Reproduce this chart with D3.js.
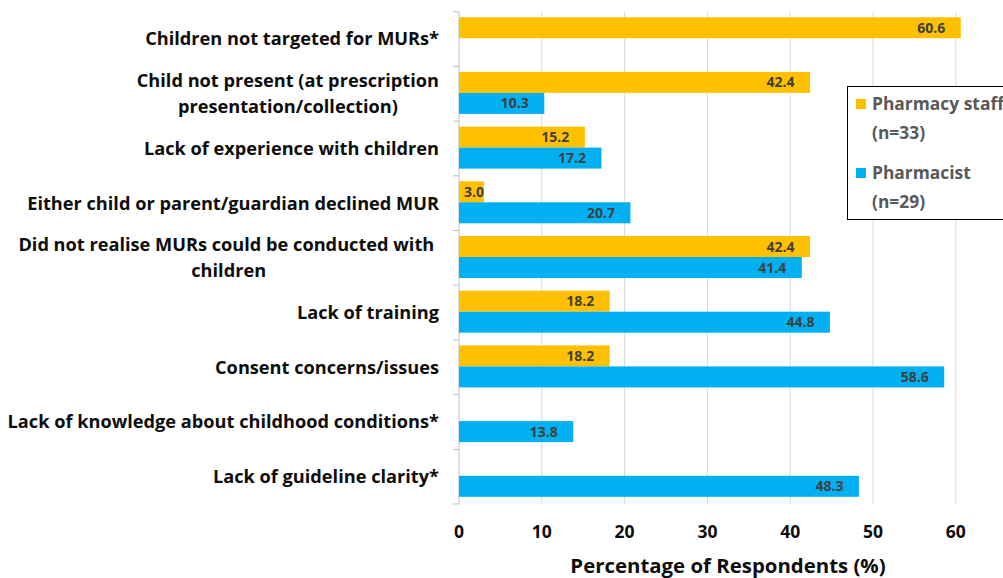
<!DOCTYPE html>
<html><head><meta charset="utf-8">
<script src="https://cdn.jsdelivr.net/npm/d3@7"></script>
<style>html,body{margin:0;padding:0;background:#fff;overflow:hidden}</style>
</head><body>
<svg id="c" width="1003" height="578"></svg>
<script>
const categories = [
  ["Children not targeted for MURs*"],
  ["Child not present (at prescription", "presentation/collection)"],
  ["Lack of experience with children"],
  ["Either child or parent/guardian declined MUR"],
  ["Did not realise MURs could be conducted with\u00a0", "children"],
  ["Lack of training"],
  ["Consent concerns/issues"],
  ["Lack of knowledge about childhood conditions*"],
  ["Lack of guideline clarity*"]
];
const staffValues = [60.6, 42.4, 15.2, 3.0, 42.4, 18.2, 18.2, null, null];
const pharmacistValues = [null, 10.3, 17.2, 20.7, 41.4, 44.8, 58.6, 13.8, 48.3];
const seriesNames = ["Pharmacy staff", "Pharmacist"];
const seriesSub = ["(n=33)", "(n=29)"];
const xTicks = [0, 10, 20, 30, 40, 50, 60];
const axisTitle = "Percentage of Respondents (%)";

const colors = ["#FFC000", "#00B0F0"];
const font = "'Open Sans', sans-serif";
const svg = d3.select("#c");

const x = d3.scaleLinear().domain([0, 70]).range([459, 459 + 70 * 8.28]);
const y = d3.scaleBand().domain(d3.range(categories.length)).range([11.7, 504]).paddingInner(0).paddingOuter(0);
const sub = d3.scaleBand().domain([0, 1]).range([5.5, y.bandwidth() - 7.2]);

// gridlines
svg.append("g").selectAll("line").data(xTicks).join("line")
  .attr("x1", d => x(d)).attr("x2", d => x(d))
  .attr("y1", 11.7).attr("y2", 504)
  .attr("stroke", d => d === 0 ? "#bfbfbf" : "#d9d9d9").attr("stroke-width", 1);

// category tick marks
svg.append("g").selectAll("line").data(d3.range(categories.length + 1)).join("line")
  .attr("x1", x(0) - 6).attr("x2", x(0))
  .attr("y1", d => d < categories.length ? y(d) : 504)
  .attr("y2", d => d < categories.length ? y(d) : 504)
  .attr("stroke", "#bfbfbf");

// bars
const series = [staffValues, pharmacistValues];
series.forEach((vals, si) => {
  const g = svg.append("g");
  const items = vals.map((v, i) => ({v, i})).filter(d => d.v != null);
  g.selectAll("rect").data(items).join("rect")
    .attr("x", x(0)).attr("y", d => y(d.i) + sub(si))
    .attr("width", d => x(d.v) - x(0)).attr("height", sub.bandwidth())
    .attr("fill", colors[si]);
  g.selectAll("text").data(items).join("text")
    .attr("x", d => Math.max(x(d.v) - 15.5, x(0) + 25))
    .attr("y", d => y(d.i) + sub(si) + sub.bandwidth() / 2)
    .attr("dy", "0.36em").attr("text-anchor", "end")
    .attr("font-family", font).attr("font-weight", "bold").attr("font-size", 14)
    .attr("fill", "#404040")
    .text(d => d.v.toFixed(1));
});

// category labels
const labelRight = 439;
categories.forEach((lines, i) => {
  const t = svg.append("text")
    .attr("font-family", font).attr("font-weight", "bold").attr("font-size", 18.2)
    .attr("fill", "#0d0d0d").attr("text-anchor", "middle");
  const cy = y(i) + y.bandwidth() / 2;
  const lh = 25.5;
  const spans = lines.map((l, k) => t.append("tspan").text(l)
    .attr("y", cy + (k - (lines.length - 1) / 2) * lh).attr("dy", "0.35em"));
  const w = d3.max(spans.map(s => s.node().getComputedTextLength()));
  spans.forEach(s => s.attr("x", labelRight - w / 2));
});

// x tick labels
svg.append("g").selectAll("text").data(xTicks).join("text")
  .attr("x", d => x(d)).attr("y", 532).attr("dy", "0.35em")
  .attr("text-anchor", "middle")
  .attr("font-family", font).attr("font-weight", "bold").attr("font-size", 17.5)
  .attr("fill", "#0d0d0d").text(d => d);

// axis title
svg.append("text").attr("x", 728).attr("y", 566).attr("dy", "0.35em")
  .attr("text-anchor", "middle")
  .attr("font-family", font).attr("font-weight", "bold").attr("font-size", 20.4)
  .attr("fill", "#0d0d0d").text(axisTitle);

// legend
const lg = svg.append("g");
lg.append("rect").attr("x", 847.5).attr("y", 86.5).attr("width", 170).attr("height", 133)
  .attr("fill", "#fff").attr("stroke", "#000").attr("stroke-width", 1);
seriesNames.forEach((n, si) => {
  const top = 104 + si * 69;
  lg.append("rect").attr("x", 856).attr("y", top - 5).attr("width", 10).attr("height", 10)
    .attr("fill", colors[si]);
  lg.append("text").attr("x", 872).attr("y", top).attr("dy", "0.35em")
    .attr("font-family", font).attr("font-weight", "bold").attr("font-size", 17.4)
    .attr("fill", "#595959").text(n);
  lg.append("text").attr("x", 872).attr("y", top + 28.5).attr("dy", "0.35em")
    .attr("font-family", font).attr("font-weight", "bold").attr("font-size", 17.4)
    .attr("fill", "#595959").text(seriesSub[si]);
});
</script>
</body></html>
